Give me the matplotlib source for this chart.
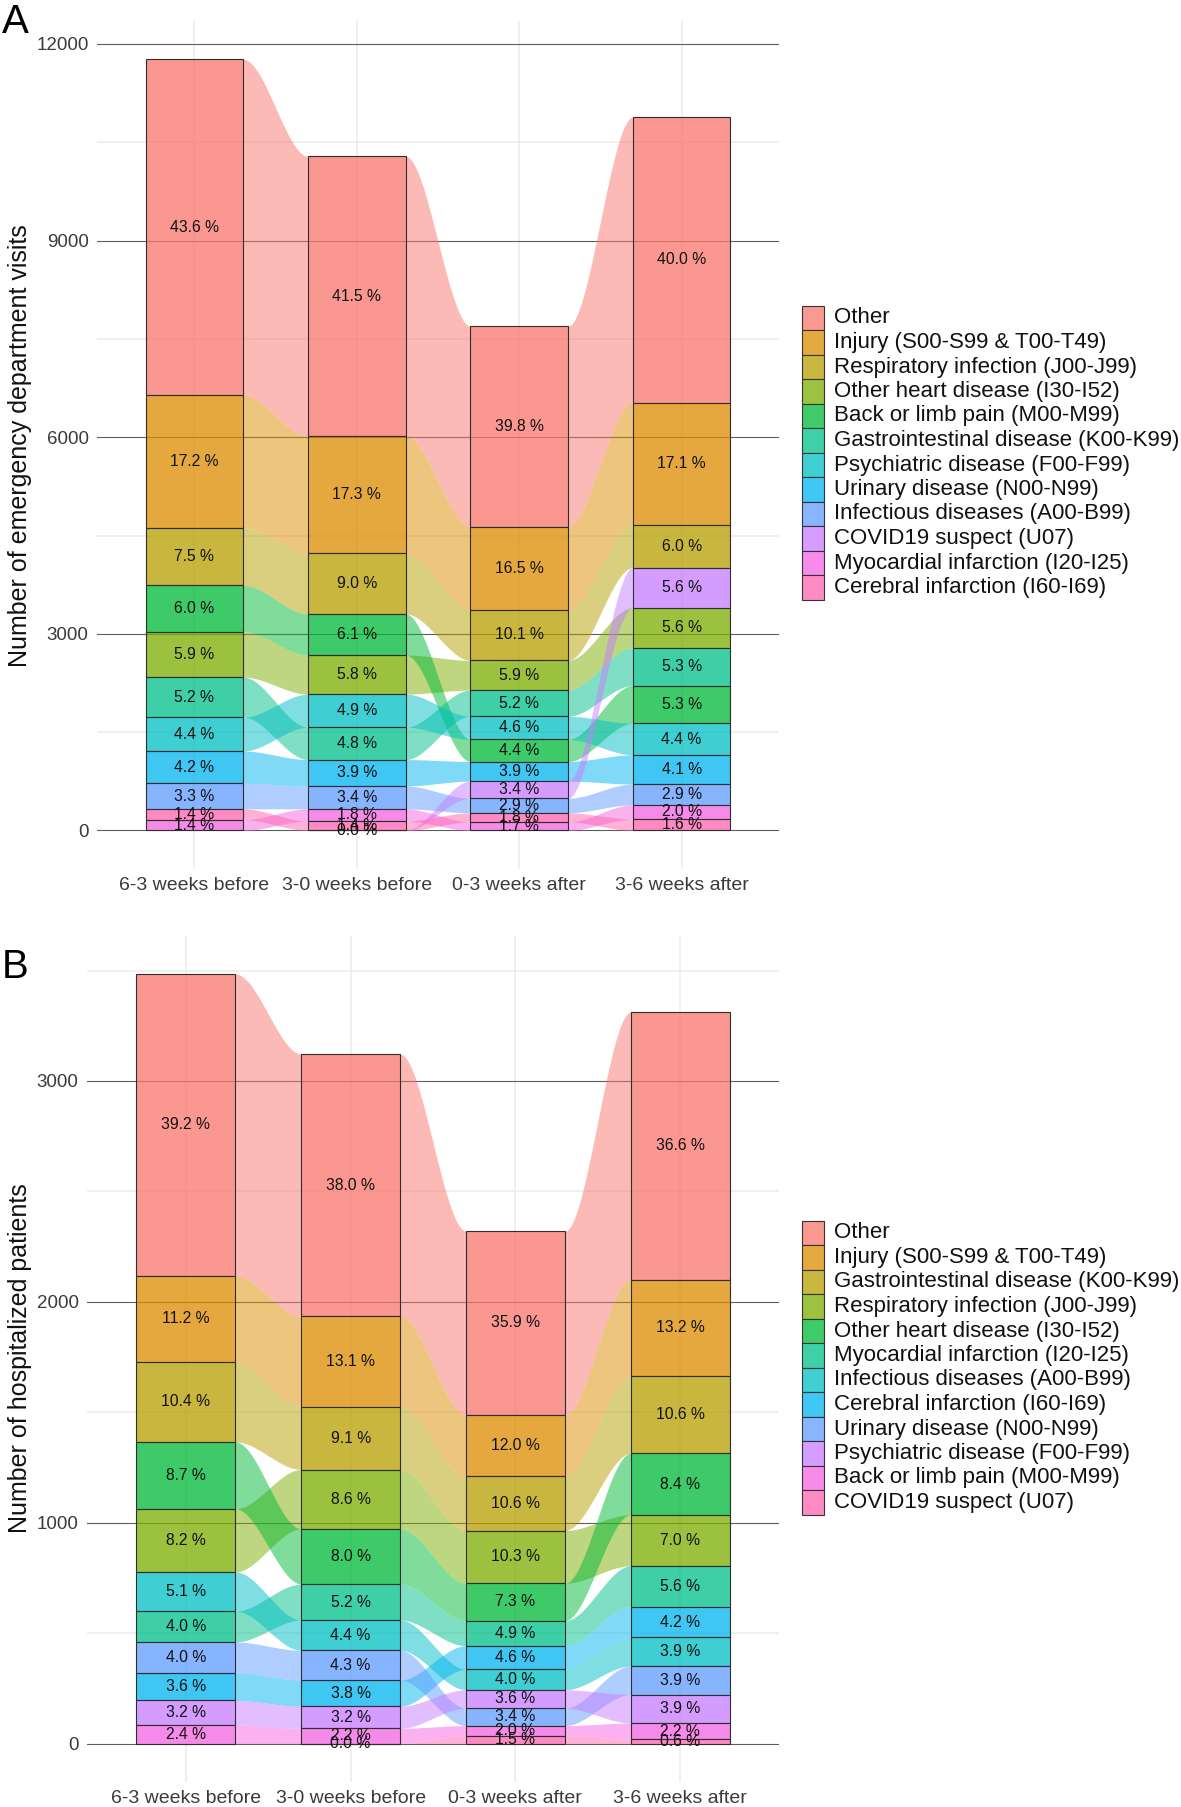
import numpy as np
import matplotlib.pyplot as plt
from matplotlib.colors import to_rgb
from matplotlib.patches import Rectangle

plt.rcParams['font.family'] = ['Liberation Sans', 'DejaVu Sans']

W_PX, H_PX = 1181, 1807

periods = ['6-3 weeks before', '3-0 weeks before', '0-3 weeks after', '3-6 weeks after']

# ggplot hue palette, 12 levels
hue12 = ['#F8766D', '#DE8C00', '#B79F00', '#7CAE00', '#00BA38', '#00C08B',
         '#00BFC4', '#00B4F0', '#619CFF', '#C77CFF', '#F564E3', '#FF64B0']

# Panel A: emergency department visits (percent of period total)
ed_cats = ['Other', 'Injury (S00-S99 & T00-T49)', 'Respiratory infection (J00-J99)',
           'Other heart disease (I30-I52)', 'Back or limb pain (M00-M99)',
           'Gastrointestinal disease (K00-K99)', 'Psychiatric disease (F00-F99)',
           'Urinary disease (N00-N99)', 'Infectious diseases (A00-B99)',
           'COVID19 suspect (U07)', 'Myocardial infarction (I20-I25)',
           'Cerebral infarction (I60-I69)']
ed_totals = [11754, 10296, 7678, 10893]
ed_63_before = [43.6, 17.2, 7.5, 5.9, 6.0, 5.2, 4.4, 4.2, 3.3, np.nan, 1.40, 1.41]
ed_30_before = [41.5, 17.3, 9.0, 5.8, 6.1, 4.8, 4.9, 3.9, 3.4, 0.0, 1.8, 1.4]
ed_03_after = [39.8, 16.5, 10.1, 5.9, 4.4, 5.2, 4.6, 3.9, 2.9, 3.4, 1.7, 1.8]
ed_36_after = [40.0, 17.1, 6.0, 5.60, 5.30, 5.31, 4.4, 4.1, 2.9, 5.61, 2.0, 1.6]

# Panel B: hospitalized patients
hosp_cats = ['Other', 'Injury (S00-S99 & T00-T49)', 'Gastrointestinal disease (K00-K99)',
             'Respiratory infection (J00-J99)', 'Other heart disease (I30-I52)',
             'Myocardial infarction (I20-I25)', 'Infectious diseases (A00-B99)',
             'Cerebral infarction (I60-I69)', 'Urinary disease (N00-N99)',
             'Psychiatric disease (F00-F99)', 'Back or limb pain (M00-M99)',
             'COVID19 suspect (U07)']
hosp_totals = [3484, 3125, 2318, 3307]
hosp_63_before = [39.2, 11.2, 10.4, 8.2, 8.7, 4.01, 5.1, 3.6, 4.00, 3.2, 2.4, np.nan]
hosp_30_before = [38.0, 13.1, 9.1, 8.6, 8.0, 5.2, 4.4, 3.8, 4.3, 3.2, 2.2, 0.0]
hosp_03_after = [35.9, 12.0, 10.6, 10.3, 7.3, 4.9, 4.0, 4.6, 3.4, 3.6, 2.0, 1.5]
hosp_36_after = [36.6, 13.2, 10.6, 7.0, 8.4, 5.6, 3.92, 4.2, 3.91, 3.90, 2.2, 0.6]

BOX_W = 0.6


def soften(c, a):
    r = np.array(to_rgb(c))
    return tuple(1 - a * (1 - r))


def draw_panel(ax, cats, totals, cols, major, minor):
    pct = np.array(cols, dtype=float).T
    counts = pct / 100 * np.array(totals, dtype=float)
    n_cat, n_per = counts.shape
    colors = hue12[:n_cat]
    lo = np.full_like(counts, np.nan)
    hi = np.full_like(counts, np.nan)
    for j in range(n_per):
        present = np.where(~np.isnan(counts[:, j]))[0]
        order = present[np.argsort(pct[present, j], kind='stable')]
        base = 0.0
        for k in order:
            lo[k, j] = base
            base += counts[k, j]
            hi[k, j] = base
    xs = np.arange(1, n_per + 1)
    ymax = np.nanmax(hi)

    # grid
    for v in minor:
        ax.axhline(v, color='#ebebeb', lw=1.1, zorder=0.5)
    for x in xs:
        ax.axvline(x, color='#ebebeb', lw=1.1, zorder=0.5)
    for v in major:
        ax.axhline(v, color='#5e5e5e', lw=0.8, zorder=1)

    # alluvia
    t = np.linspace(0, 1, 80)[1:-1]
    s = t * t * (3 - 2 * t)
    for k in range(n_cat):
        js = [j for j in range(n_per) if not np.isnan(counts[k, j])]
        px, plo, phi = [], [], []
        for a, j in enumerate(js):
            px += [xs[j] - BOX_W / 2, xs[j] + BOX_W / 2]
            plo += [lo[k, j]] * 2
            phi += [hi[k, j]] * 2
            if a + 1 < len(js):
                j2 = js[a + 1]
                px += list(xs[j] + BOX_W / 2 + t * (xs[j2] - xs[j] - BOX_W))
                plo += list(lo[k, j] + s * (lo[k, j2] - lo[k, j]))
                phi += list(hi[k, j] + s * (hi[k, j2] - hi[k, j]))
        ax.fill_between(px, plo, phi, color=colors[k], alpha=0.5, lw=0, zorder=2)

    # strata
    for k in range(n_cat):
        for j in range(n_per):
            if np.isnan(counts[k, j]):
                continue
            ax.bar(xs[j], hi[k, j] - lo[k, j], bottom=lo[k, j], width=BOX_W,
                   facecolor=to_rgb(colors[k]) + (0.5,), edgecolor='#2e2e2e',
                   lw=0.8, zorder=3)
            ax.text(xs[j], (lo[k, j] + hi[k, j]) / 2, f'{pct[k, j]:.1f} %',
                    ha='center', va='center', fontsize=11.3, color='#111111',
                    zorder=4)

    ax.set_xlim(0.4, n_per + 0.6)
    ax.set_ylim(-0.05 * ymax, 1.05 * ymax)
    ax.set_xticks(xs)
    ax.set_xticklabels(periods)
    ax.set_yticks(major)
    ax.set_yticklabels([str(v) for v in major])
    for sp in ax.spines.values():
        sp.set_visible(False)
    ax.tick_params(axis='x', length=0, pad=6, labelsize=14, labelcolor='#3a3a3a')
    ax.tick_params(axis='y', length=0, pad=6, labelsize=13.5, labelcolor='#3a3a3a')
    ax.set_facecolor('white')
    return colors


def add_legend(fig, cats, colors, y_first):
    row = 24.5
    for i, (lab, c) in enumerate(zip(cats, colors)):
        yc = y_first + i * row
        fig.add_artist(Rectangle((802 / W_PX, 1 - (yc + row / 2) / H_PX),
                                 22 / W_PX, row / H_PX, transform=fig.transFigure,
                                 facecolor=soften(c, 0.75), edgecolor='#333333', lw=0.8))
        fig.text(834 / W_PX, 1 - yc / H_PX, lab, fontsize=16, ha='left',
                 va='center', color='#111111')


fig = plt.figure(figsize=(W_PX / 100, H_PX / 100), dpi=100)

ax_a = fig.add_axes([97 / W_PX, 1 - 869 / H_PX, (779 - 97) / W_PX, (869 - 20.7) / H_PX])
cols_a = draw_panel(ax_a, ed_cats, ed_totals,
                    [ed_63_before, ed_30_before, ed_03_after, ed_36_after],
                    [0, 3000, 6000, 9000, 12000], [1500, 4500, 7500, 10500])
add_legend(fig, ed_cats, cols_a, 318)

ax_b = fig.add_axes([87 / W_PX, 1 - 1782 / H_PX, (779 - 87) / W_PX, (1782 - 935.5) / H_PX])
cols_b = draw_panel(ax_b, hosp_cats, hosp_totals,
                    [hosp_63_before, hosp_30_before, hosp_03_after, hosp_36_after],
                    [0, 1000, 2000, 3000], [500, 1500, 2500, 3500])
add_legend(fig, hosp_cats, cols_b, 1233)

fig.text(20 / W_PX, 1 - 446 / H_PX, 'Number of emergency department visits',
         rotation=90, ha='center', va='center', fontsize=18, color='#111111')
fig.text(20 / W_PX, 1 - 1358 / H_PX, 'Number of hospitalized patients',
         rotation=90, ha='center', va='center', fontsize=18, color='#111111')

fig.text(2 / W_PX, 1 - 3 / H_PX, 'A', fontsize=29, ha='left', va='top')
fig.text(2 / W_PX, 1 - 948 / H_PX, 'B', fontsize=29, ha='left', va='top')

fig.savefig('out.png', dpi=100)
